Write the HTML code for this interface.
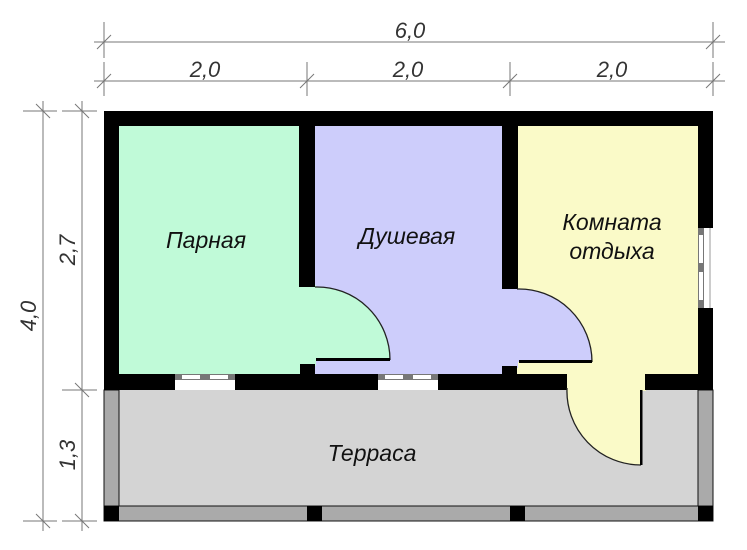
<!DOCTYPE html>
<html><head><meta charset="utf-8"><style>body{margin:0;background:#fff}svg{display:block}</style></head><body>
<svg width="747" height="550" viewBox="0 0 747 550" xmlns="http://www.w3.org/2000/svg" font-family="Liberation Sans, sans-serif" font-style="italic">
<!-- room fills -->
<rect x="119" y="126" width="181" height="249" fill="#c0fad8"/>
<rect x="315" y="126" width="188" height="249" fill="#cdcdfb"/>
<rect x="517" y="126" width="182" height="249" fill="#fafac8"/>
<rect x="104" y="390" width="609" height="131" fill="#d4d4d4"/>
<rect x="299" y="285" width="17" height="81" fill="#c0fad8"/>
<rect x="501" y="287" width="17" height="81" fill="#cdcdfb"/>
<rect x="566" y="373" width="80" height="18" fill="#fafac8"/>
<!-- door swing fills -->
<path d="M315,287 A73,73 0 0 1 390,360 L315,360 Z" fill="#c0fad8"/>
<path d="M517,289 A73,73 0 0 1 592,362 L517,362 Z" fill="#cdcdfb"/>
<path d="M567,388 A74,74 0 0 0 641,465 L641,388 Z" fill="#fafac8"/>
<!-- terrace rails -->
<rect x="104" y="390" width="15" height="131" fill="#aaa" stroke="#111" stroke-width="1"/>
<rect x="698" y="390" width="15" height="131" fill="#aaa" stroke="#111" stroke-width="1"/>
<rect x="104" y="506" width="609" height="15" fill="#aaa" stroke="#111" stroke-width="1"/>
<rect x="104" y="506" width="15" height="15" fill="#000"/>
<rect x="307" y="506" width="15" height="15" fill="#000"/>
<rect x="510" y="506" width="15" height="15" fill="#000"/>
<rect x="698" y="506" width="15" height="15" fill="#000"/>
<!-- walls -->
<g fill="#000">
<rect x="104" y="111" width="609" height="15"/>
<rect x="104" y="111" width="15" height="279"/>
<rect x="698" y="111" width="15" height="117"/>
<rect x="698" y="308" width="15" height="82"/>
<rect x="299" y="111" width="16" height="176"/>
<rect x="502" y="111" width="16" height="178"/>
<rect x="300" y="364" width="15" height="11"/>
<rect x="502" y="366" width="15" height="9"/>
<rect x="104" y="374" width="71" height="16"/>
<rect x="235" y="374" width="143" height="16"/>
<rect x="438" y="374" width="129" height="16"/>
<rect x="645" y="374" width="68" height="16"/>
</g>
<!-- windows -->
<g>
<rect x="175" y="374" width="60" height="16" fill="#fff"/>
<rect x="175" y="374" width="60" height="6" fill="#777"/>
<rect x="182" y="375" width="18" height="4" fill="#fff"/><rect x="210" y="375" width="18" height="4" fill="#fff"/>
<rect x="378" y="374" width="60" height="16" fill="#fff"/>
<rect x="378" y="374" width="60" height="6" fill="#777"/>
<rect x="385" y="375" width="18" height="4" fill="#fff"/><rect x="413" y="375" width="18" height="4" fill="#fff"/>
<rect x="698" y="228" width="15" height="80" fill="#fff"/>
<rect x="698" y="228" width="6" height="80" fill="#777"/>
<rect x="699" y="235" width="4" height="28" fill="#fff"/><rect x="699" y="272" width="4" height="28" fill="#fff"/>
<line x1="710" y1="228" x2="710" y2="308" stroke="#999"/>
</g>
<!-- doors -->
<g fill="none" stroke="#222" stroke-width="1.3">
<path d="M315,287 A73,73 0 0 1 390,360"/>
<path d="M517,289 A73,73 0 0 1 592,362"/>
<path d="M567,388 A74,74 0 0 0 641,465"/>
</g>
<rect x="316" y="358" width="74" height="3" fill="#000"/>
<rect x="519" y="360" width="73" height="3" fill="#000"/>
<rect x="640" y="390" width="2.5" height="75" fill="#000"/>
<!-- dimension lines -->
<g stroke="#777" stroke-width="1">
<line x1="94" y1="42" x2="725" y2="42"/>
<line x1="94" y1="81" x2="725" y2="81"/>
<line x1="104" y1="22" x2="104" y2="58"/><line x1="713" y1="22" x2="713" y2="58"/>
<line x1="104" y1="62" x2="104" y2="96"/><line x1="307" y1="62" x2="307" y2="96"/>
<line x1="510" y1="62" x2="510" y2="96"/><line x1="713" y1="62" x2="713" y2="96"/>
<line x1="97" y1="49" x2="111" y2="35"/><line x1="706" y1="49" x2="720" y2="35"/>
<line x1="97" y1="88" x2="111" y2="74"/><line x1="300" y1="88" x2="314" y2="74"/>
<line x1="503" y1="88" x2="517" y2="74"/><line x1="706" y1="88" x2="720" y2="74"/>
<line x1="43" y1="101" x2="43" y2="531"/>
<line x1="82" y1="101" x2="82" y2="531"/>
<line x1="23" y1="111" x2="57" y2="111"/><line x1="23" y1="521" x2="57" y2="521"/>
<line x1="62" y1="111" x2="97" y2="111"/><line x1="62" y1="390" x2="97" y2="390"/><line x1="62" y1="521" x2="97" y2="521"/>
<line x1="36" y1="104" x2="50" y2="118"/><line x1="36" y1="514" x2="50" y2="528"/>
<line x1="75" y1="104" x2="89" y2="118"/><line x1="75" y1="383" x2="89" y2="397"/><line x1="75" y1="514" x2="89" y2="528"/>
</g>
<g fill="#333" font-size="22" text-anchor="middle">
<text x="410" y="38">6,0</text>
<text x="205" y="77">2,0</text>
<text x="408" y="77">2,0</text>
<text x="612" y="77">2,0</text>
<text transform="translate(75,250) rotate(-90)">2,7</text>
<text transform="translate(36,316) rotate(-90)">4,0</text>
<text transform="translate(75,455) rotate(-90)">1,3</text>
</g>
<g fill="#111" font-size="23" text-anchor="middle">
<text x="206" y="248">Парная</text>
<text x="407" y="244">Душевая</text>
<text x="612" y="230">Комната</text>
<text x="612" y="259">отдыха</text>
<text x="372" y="461">Терраса</text>
</g>
</svg>
</body></html>
